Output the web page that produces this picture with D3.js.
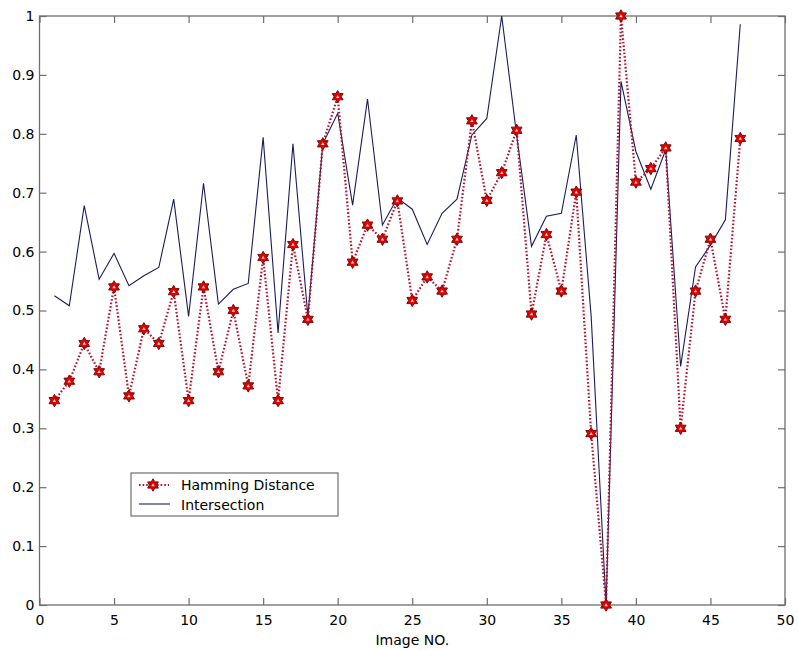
<!DOCTYPE html>
<html>
<head>
<meta charset="utf-8">
<script src="https://cdn.jsdelivr.net/npm/d3@7"></script>
<style>
  body { margin: 0; background: #fff; }
  svg text { font-family: "DejaVu Sans", "Liberation Sans", Arial, sans-serif; fill: #000; }
</style>
</head>
<body>
<div id="chart"></div>
<script>
// image numbers 1..47
const imageNo = d3.range(1, 48);

// Hamming distance values (dotted red with hexagram markers)
const hamming = [
  0.347, 0.380, 0.444, 0.396, 0.540, 0.355, 0.469, 0.444, 0.532, 0.347,
  0.540, 0.396, 0.500, 0.372, 0.590, 0.347, 0.612, 0.485, 0.783, 0.863,
  0.582, 0.645, 0.621, 0.686, 0.517, 0.557, 0.533, 0.621, 0.822, 0.687,
  0.734, 0.806, 0.494, 0.629, 0.533, 0.701, 0.291, 0.000, 1.000, 0.718,
  0.741, 0.776, 0.300, 0.533, 0.621, 0.485, 0.792
];

// Intersection values (solid navy line)
const intersection = [
  0.525, 0.508, 0.678, 0.553, 0.597, 0.542, 0.559, 0.573, 0.689, 0.490,
  0.716, 0.511, 0.536, 0.546, 0.794, 0.462, 0.783, 0.490, 0.783, 0.835,
  0.679, 0.859, 0.645, 0.691, 0.672, 0.612, 0.665, 0.689, 0.798, 0.826,
  1.000, 0.798, 0.609, 0.660, 0.665, 0.798, 0.490, 0.000, 0.889, 0.770,
  0.706, 0.773, 0.405, 0.574, 0.611, 0.654, 0.986
];

const xTicks = [0, 5, 10, 15, 20, 25, 30, 35, 40, 45, 50];
const yTicks = [0, 0.1, 0.2, 0.3, 0.4, 0.5, 0.6, 0.7, 0.8, 0.9, 1];
const seriesNames = ["Hamming Distance", "Intersection"];
const xLabel = "Image NO.";

const width = 798, height = 650;
const margin = { left: 39.5, right: 13, top: 16, bottom: 45 };
const fontFam = "'DejaVu Sans', 'Liberation Sans', Arial, sans-serif";

const svg = d3.select("#chart").append("svg")
  .attr("width", width)
  .attr("height", height);

const x = d3.scaleLinear().domain([0, 50]).range([margin.left, width - margin.right]);
const y = d3.scaleLinear().domain([0, 1]).range([height - margin.bottom, margin.top]);

const axisColor = "#6e6e6e";
const tickLen = 7;

// plot box
svg.append("rect")
  .attr("x", x(0)).attr("y", y(1))
  .attr("width", x(50) - x(0)).attr("height", y(0) - y(1))
  .attr("fill", "none").attr("stroke", axisColor).attr("stroke-width", 1.3);

// axes with inward ticks
const xAxis = svg.append("g").attr("transform", `translate(0,${y(0)})`)
  .call(d3.axisBottom(x).tickValues(xTicks).tickSize(-tickLen).tickPadding(10).tickFormat(d3.format("d")));
const xAxisTop = svg.append("g").attr("transform", `translate(0,${y(1)})`)
  .call(d3.axisTop(x).tickValues(xTicks).tickSize(-tickLen).tickFormat(""));
const yAxis = svg.append("g").attr("transform", `translate(${x(0)},0)`)
  .call(d3.axisLeft(y).tickValues(yTicks).tickSize(-tickLen).tickPadding(5).tickFormat(d => d === 0 || d === 1 ? d3.format("d")(d) : d3.format(".1f")(d)));
const yAxisRight = svg.append("g").attr("transform", `translate(${x(50)},0)`)
  .call(d3.axisRight(y).tickValues(yTicks).tickSize(-tickLen).tickFormat(""));

[xAxis, xAxisTop, yAxis, yAxisRight].forEach(g => {
  g.select(".domain").remove();
  g.selectAll(".tick line").attr("stroke", axisColor).attr("stroke-width", 1.2);
  g.selectAll(".tick text")
    .style("font-family", fontFam)
    .attr("font-size", 14).attr("fill", "#000");
});

svg.append("text")
  .attr("x", (x(0) + x(50)) / 2)
  .attr("y", 645)
  .attr("text-anchor", "middle")
  .attr("font-size", 14)
  .text(xLabel);

// series
const hamColor = "#b3102e";
const intColor = "#1c1c5c";

const lineGen = d3.line().x((d, i) => x(imageNo[i])).y(d => y(d));

svg.append("path")
  .datum(intersection)
  .attr("d", lineGen)
  .attr("fill", "none")
  .attr("stroke", intColor)
  .attr("stroke-width", 1.1);

svg.append("path")
  .datum(hamming)
  .attr("d", lineGen)
  .attr("fill", "none")
  .attr("stroke", hamColor)
  .attr("stroke-width", 2.2)
  .attr("stroke-dasharray", "1.6,2");

// hexagram marker path
function hexagram(R) {
  const r = R / Math.sqrt(3);
  const pts = [];
  for (let k = 0; k < 12; k++) {
    const a = -Math.PI / 2 + k * Math.PI / 6;
    const rr = k % 2 === 0 ? R : r;
    pts.push([rr * Math.cos(a), rr * Math.sin(a)]);
  }
  return "M" + pts.map(p => p[0].toFixed(2) + "," + p[1].toFixed(2)).join("L") + "Z";
}

function drawMarker(g, cx, cy) {
  g.append("path")
    .attr("d", hexagram(6.2))
    .attr("transform", `translate(${cx},${cy})`)
    .attr("fill", "#e00000")
    .attr("stroke", "#7a0a0a")
    .attr("stroke-width", 1);
  g.append("path")
    .attr("d", d3.symbol(d3.symbolTriangle, 5)())
    .attr("transform", `translate(${cx},${cy + 0.3})`)
    .attr("fill", "#f6d6d0");
}

const markers = svg.append("g");
hamming.forEach((v, i) => drawMarker(markers, x(imageNo[i]), y(v)));

// legend
const lg = svg.append("g");
lg.append("rect")
  .attr("x", 131).attr("y", 473)
  .attr("width", 207).attr("height", 43)
  .attr("fill", "#fff").attr("stroke", axisColor).attr("stroke-width", 1.2);

lg.append("line")
  .attr("x1", 139).attr("x2", 169).attr("y1", 485).attr("y2", 485)
  .attr("stroke", hamColor).attr("stroke-width", 2.2).attr("stroke-dasharray", "1.6,2");
drawMarker(lg, 153, 485);
lg.append("text").attr("x", 181).attr("y", 490).attr("font-size", 14).text(seriesNames[0]);

lg.append("line")
  .attr("x1", 139).attr("x2", 170).attr("y1", 504).attr("y2", 504)
  .attr("stroke", intColor).attr("stroke-width", 1.1);
lg.append("text").attr("x", 181).attr("y", 510).attr("font-size", 14).text(seriesNames[1]);
</script>
</body>
</html>
